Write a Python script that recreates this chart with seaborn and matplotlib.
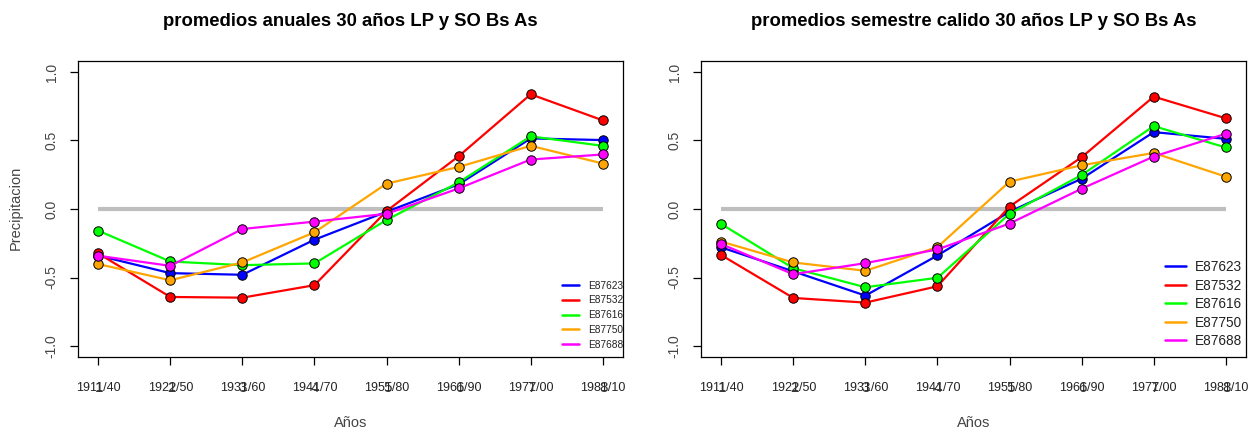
import matplotlib
matplotlib.use("Agg")
import matplotlib.pyplot as plt
import seaborn as sns
import pandas as pd
import numpy as np

# ---------------- data ----------------
idx = [1, 2, 3, 4, 5, 6, 7, 8]
periods = ["1911/40", "1921/50", "1931/60", "1941/70", "1951/80", "1961/90", "1971/00", "1981/10"]
stations = ["E87623", "E87532", "E87616", "E87750", "E87688"]
colors = ["#0000FF", "#FF0000", "#00FF00", "#FFA500", "#FF00FF"]

# promedios anuales
an_E87623 = [-0.34, -0.468, -0.48, -0.224, -0.02, 0.18, 0.515, 0.503]
an_E87532 = [-0.324, -0.642, -0.647, -0.556, -0.015, 0.385, 0.837, 0.647]
an_E87616 = [-0.158, -0.383, -0.41, -0.397, -0.08, 0.194, 0.53, 0.461]
an_E87750 = [-0.402, -0.52, -0.39, -0.17, 0.185, 0.307, 0.461, 0.332]
an_E87688 = [-0.341, -0.415, -0.146, -0.092, -0.035, 0.15, 0.361, 0.398]

# promedios semestre calido
ca_E87623 = [-0.28, -0.455, -0.632, -0.339, -0.02, 0.221, 0.561, 0.512]
ca_E87532 = [-0.336, -0.649, -0.683, -0.564, 0.018, 0.378, 0.82, 0.662]
ca_E87616 = [-0.109, -0.432, -0.571, -0.502, -0.035, 0.248, 0.605, 0.449]
ca_E87750 = [-0.238, -0.39, -0.451, -0.278, 0.2, 0.319, 0.409, 0.236]
ca_E87688 = [-0.256, -0.476, -0.395, -0.295, -0.106, 0.148, 0.383, 0.549]

yticks = [-1.0, -0.5, 0.0, 0.5, 1.0]
ytick_labels = ["-1.0", "-0.5", "0.0", "0.5", "1.0"]

titles = ["promedios anuales 30 años LP y SO Bs As",
          "promedios semestre calido 30 años LP y SO Bs As"]


def long_df(series):
    rows = []
    for st, vals in zip(stations, series):
        for i, v in zip(idx, vals):
            rows.append({"idx": i, "val": v, "station": st})
    return pd.DataFrame(rows)


df_an = long_df([an_E87623, an_E87532, an_E87616, an_E87750, an_E87688])
df_ca = long_df([ca_E87623, ca_E87532, ca_E87616, ca_E87750, ca_E87688])

# ---------------- style ----------------
sns.set_theme(style="white")
plt.rcParams["font.family"] = ["Liberation Sans", "DejaVu Sans"]
GRAY = "#444444"

W, H = 1248, 430
fig = plt.figure(figsize=(W / 100, H / 100), dpi=100)
ax1 = fig.add_axes([78 / W, 1 - 357 / H, 545 / W, 296 / H])
ax2 = fig.add_axes([701 / W, 1 - 357 / H, 545 / W, 296 / H])

legend_cfg = [
    dict(fontsize=7.3, handlelength=1.68, handletextpad=0.89, labelspacing=0.47,
         anchor=(1.0, 0.025)),
    dict(fontsize=9.8, handlelength=1.55, handletextpad=0.66, labelspacing=0.33,
         anchor=(0.993, 0.03)),
]

for k, (ax, df) in enumerate([(ax1, df_an), (ax2, df_ca)]):
    ax.hlines(0, idx[0], idx[-1], colors="#BEBEBE", linewidth=3, zorder=1)
    sns.lineplot(data=df, x="idx", y="val", hue="station", hue_order=stations,
                 palette=colors, marker="o", markersize=6.8, markeredgecolor="black",
                 markeredgewidth=0.7, linewidth=1.6, ax=ax, zorder=3)
    ax.set_xlim(0.72, 8.28)
    ax.set_ylim(-1.08, 1.08)
    for s in ax.spines.values():
        s.set_visible(True)
        s.set_color("black")
        s.set_linewidth(0.9)
    ax.set_xticks(idx)
    ax.set_xticklabels([""] * len(idx))
    ax.set_yticks(yticks)
    ax.set_yticklabels(ytick_labels, rotation=90, va="center", color=GRAY, fontsize=10)
    ax.tick_params(axis="both", direction="out", length=6, width=0.9, color="black",
                   bottom=True, left=True)
    ax.tick_params(axis="y", pad=8)
    for i, p in zip(idx, periods):
        ax.annotate(p, xy=(i, 0), xycoords=("data", "axes fraction"),
                    xytext=(0, -22.3), textcoords="offset points",
                    ha="center", va="center", fontsize=9, color="#222222")
        ax.annotate(str(i), xy=(i, 0), xycoords=("data", "axes fraction"),
                    xytext=(0.6, -22.3), textcoords="offset points",
                    ha="center", va="center", fontsize=11, color="#333333")
    ax.set_xlabel("")
    ax.set_ylabel("")
    c = legend_cfg[k]
    leg = ax.legend(loc="lower right", bbox_to_anchor=c["anchor"], frameon=False,
                    fontsize=c["fontsize"], handlelength=c["handlelength"],
                    handletextpad=c["handletextpad"], labelspacing=c["labelspacing"],
                    borderpad=0, borderaxespad=0)
    for h in leg.legend_handles:
        h.set_marker("")
        h.set_linewidth(1.8)
    for t in leg.get_texts():
        t.set_color("#222222")

# titles & axis labels
for ax, t in zip([ax1, ax2], titles):
    pos = ax.get_position()
    cx = (pos.x0 + pos.x1) / 2
    fig.text(cx, 1 - 22 / H, t, ha="center", va="center", fontsize=13.3,
             fontweight="bold", color="black")
    fig.text(cx, 1 - 423 / H, "Años", ha="center", va="center", fontsize=10.5,
             color=GRAY)

fig.text(16 / W, 1 - 208 / H, "Precipitacion", rotation=90, ha="center", va="center",
         fontsize=10.5, color=GRAY)

fig.savefig("out.png", dpi=100)
